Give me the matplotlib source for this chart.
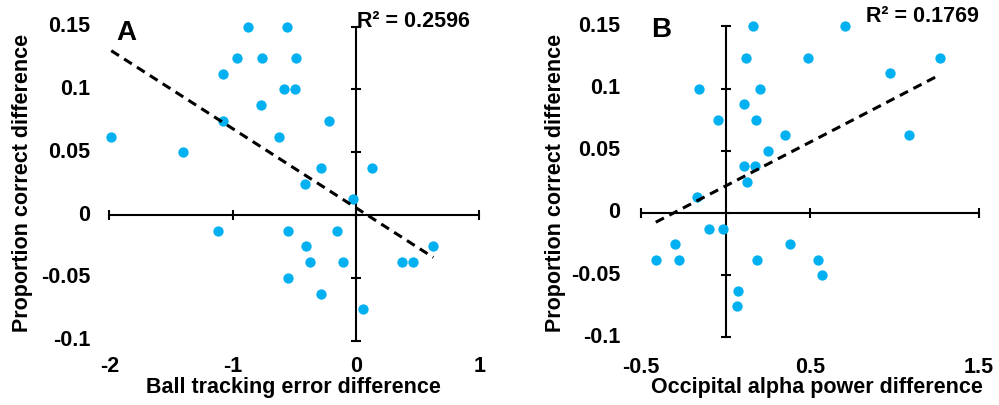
import matplotlib
matplotlib.use("Agg")
import matplotlib.pyplot as plt
import numpy as np

plt.rcParams['font.family'] = ['Liberation Sans', 'DejaVu Sans']
plt.rcParams['font.weight'] = 'bold'

# panel A: ball tracking error vs proportion correct
a_x = [-0.876, -0.562, -0.962, -0.760, -0.487, -1.076, -0.584, -0.495, -0.770, -1.081,
       -0.219, -1.984, -0.622, -1.405, -0.284, 0.127, -0.411, -0.022, -1.119, -0.551,
       -0.152, -0.403, 0.627, -0.373, -0.105, 0.376, 0.46, -0.551, -0.284, 0.06]
a_y = [0.15, 0.15, 0.125, 0.125, 0.125, 0.1125, 0.1, 0.1, 0.0875, 0.075,
       0.075, 0.0625, 0.0625, 0.05, 0.0375, 0.0375, 0.025, 0.0125, -0.0125, -0.0125,
       -0.0125, -0.025, -0.025, -0.0375, -0.0375, -0.0375, -0.0375, -0.05, -0.0625, -0.075]

# panel B: occipital alpha power vs proportion correct
b_x = [0.161, 0.707, 0.12, 0.487, 1.273, 0.977, -0.157, 0.205, 0.112, -0.043,
       0.183, 0.353, 1.088, 0.252, 0.110, 0.175, 0.127, -0.171, -0.1, -0.013,
       -0.30, 0.382, -0.414, -0.278, 0.188, 0.55, 0.570, 0.074, 0.066]
b_y = [0.15, 0.15, 0.125, 0.125, 0.125, 0.1125, 0.1, 0.1, 0.0875, 0.075,
       0.075, 0.0625, 0.0625, 0.05, 0.0375, 0.0375, 0.025, 0.0125, -0.0125, -0.0125,
       -0.025, -0.025, -0.0375, -0.0375, -0.0375, -0.0375, -0.05, -0.0625, -0.075]

y_ticks = [-0.1, -0.05, 0, 0.05, 0.1, 0.15]
y_labels = ['-0.1', '-0.05', '0', '0.05', '0.1', '0.15']
a_xticks = [-2, -1, 0, 1]
a_xlabels = ['-2', '-1', '0', '1']
b_xticks = [-0.5, 0.5, 1.5]
b_xlabels = ['-0.5', '0.5', '1.5']

blue = '#00b0f0'
fs = 15.5
fig = plt.figure(figsize=(9.99, 4.05), dpi=100)


def panel(rect, xs, ys, xticks, xlabels, letter, r2, letter_pos, r2_pos, ylab_dx, xlab_dy):
    ax = fig.add_axes(rect)
    ax.set_xlim(xticks[0], xticks[-1])
    ax.set_ylim(-0.1, 0.15)
    ax.scatter(xs, ys, s=55, color=blue, zorder=3, clip_on=False, linewidths=0)
    k, b = np.polyfit(xs, ys, 1)
    fx = np.array([min(xs), max(xs)])
    ax.plot(fx, k * fx + b, color='black', lw=2.2, ls=(0, (3, 2)), zorder=4)
    for s in ['top', 'right']:
        ax.spines[s].set_visible(False)
    ax.spines['left'].set_position(('data', 0))
    ax.spines['bottom'].set_position(('data', 0))
    ax.spines['left'].set_linewidth(1.5)
    ax.spines['bottom'].set_linewidth(1.5)
    ax.set_xticks(xticks)
    ax.set_yticks(y_ticks)
    ax.tick_params(direction='inout', length=7, width=1.5, labelbottom=False, labelleft=False)
    for v, t in zip(y_ticks, y_labels):
        ax.text(ylab_dx, v, t, transform=ax.get_yaxis_transform(), ha='right', va='center',
                fontsize=fs, fontweight='bold')
    for v, t in zip(xticks, xlabels):
        ax.text(v, xlab_dy, t, transform=ax.get_xaxis_transform(), ha='center', va='baseline',
                fontsize=fs, fontweight='bold')
    ax.text(letter_pos[0], letter_pos[1], letter, transform=ax.transAxes, ha='left', va='center',
            fontsize=20, fontweight='bold')
    ax.text(r2_pos[0], r2_pos[1], r2, transform=ax.transAxes, ha='left', va='center',
            fontsize=fs, fontweight='bold')
    return ax


panel([0.1094, 0.1588, 0.3704, 0.7753], a_x, a_y, a_xticks, a_xlabels, 'A', 'R² = 0.2596',
      (0.02, 0.98), (0.67, 1.015), -0.052, -0.100)
panel([0.6419, 0.1672, 0.3377, 0.7674], b_x, b_y, b_xticks, b_xlabels, 'B', 'R² = 0.1769',
      (0.03, 0.99), (0.665, 1.033), -0.063, -0.114)

fig.text(0.023, 0.548, 'Proportion correct difference', rotation=90, ha='center', va='center',
         fontsize=fs, fontweight='bold')
fig.text(0.556, 0.548, 'Proportion correct difference', rotation=90, ha='center', va='center',
         fontsize=fs, fontweight='bold')
fig.text(0.2936, 1 - 393.5 / 405, 'Ball tracking error difference', ha='center', va='baseline',
         fontsize=fs, fontweight='bold')
fig.text(0.8175, 1 - 393.5 / 405, 'Occipital alpha power difference', ha='center', va='baseline',
         fontsize=fs, fontweight='bold')

fig.savefig('out.png', dpi=100)
